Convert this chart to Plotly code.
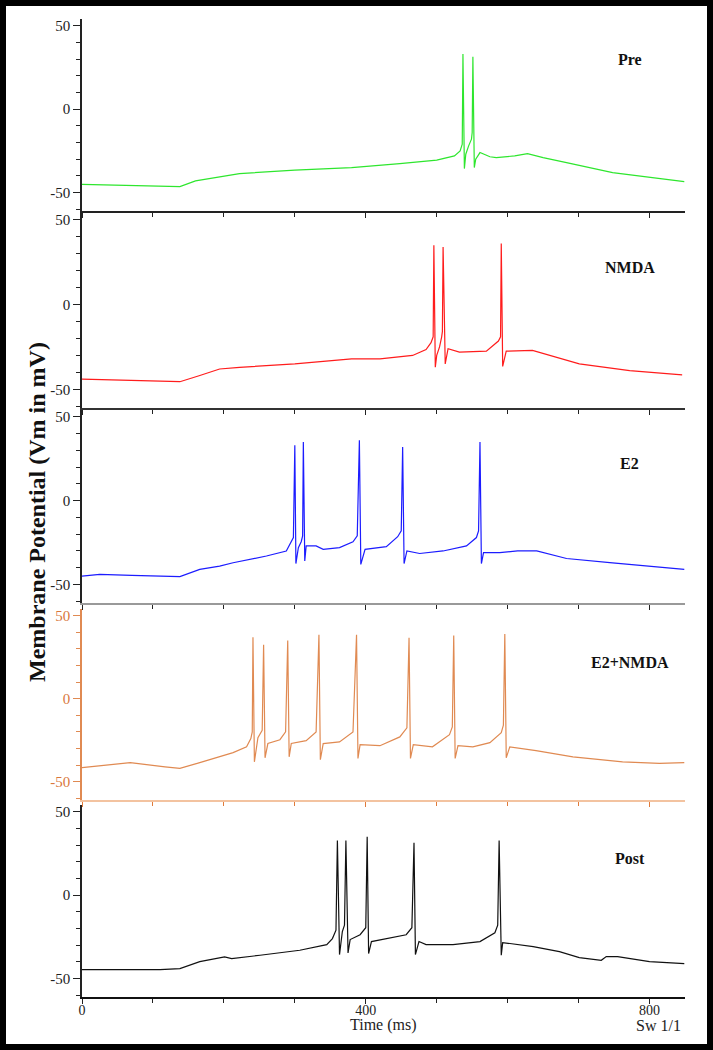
import plotly.graph_objects as go

# time (ms) / membrane potential (mV) breakpoints
pre_t = [0, 60, 138, 160, 222, 300, 380, 448, 500, 525, 533, 536, 537, 539, 541, 545, 549, 550, 551, 553, 555,
         561, 575, 584, 610, 628, 650, 683, 748, 804, 849]
pre_v = [-45, -45.5, -46.4, -43, -38.6, -36.5, -35, -32.6, -30.5, -28, -25, -21, 33, -35.6, -27, -22, -18, -14, 31.4,
         -35, -30, -26, -28.5, -29, -28, -26.6, -29, -32, -38, -41, -43.4]

nmda_t = [0, 60, 138, 165, 194, 222, 300, 380, 420, 466, 485, 492, 495, 496, 498, 500, 504, 507, 508, 509, 512, 516,
          532, 570, 580, 587, 590, 591, 593, 598, 635, 660, 701, 772, 846]
nmda_v = [-44, -44.5, -45.5, -42, -38, -37, -35, -32, -32, -30, -26.5, -22.5, -19, 35, -37, -30, -25, -19, -16, 34,
          -35, -26, -28, -27.5, -24, -21.5, -19, 36, -36.5, -27.5, -27, -30, -35, -39, -41.5]

e2_t = [0, 25, 70, 138, 166, 194, 213, 260, 288, 295, 298, 300, 301.5, 305, 309, 311, 312, 314, 316, 330, 340, 363,
        382, 388, 391, 393, 399, 429, 445, 450, 452, 454, 458, 476, 509, 542, 556, 559, 561, 563, 566, 589, 614, 641,
        683, 744, 795, 849]
e2_v = [-45, -44, -44.5, -45.3, -41, -39, -37, -33, -30, -25, -22, 33, -37.5, -28, -24.5, -21, 35, -36, -27, -27, -29,
        -28, -24.5, -21, 36, -38, -29, -27.4, -21.5, -18, 32, -37.5, -30, -31.5, -30, -27, -22, -18, 35, -37.5, -31,
        -31, -30, -30, -34.5, -37, -39, -41]

e2nmda_t = [0, 68, 117, 138, 166, 194, 213, 232, 238, 240, 241, 243, 248, 254, 256, 258, 262, 279, 287, 290, 292,
            295, 316, 330, 334, 336, 340, 363, 382, 387, 389, 392, 420, 448, 458, 461, 463, 467, 494, 518, 522, 524,
            526, 530, 551, 575, 591, 594, 596, 598, 603, 640, 692, 762, 814, 849]
e2nmda_v = [-41.5, -38.5, -41, -42, -38.5, -35, -32.5, -29, -24, -20, 37, -38, -23.5, -19, 32.5, -35.6, -27, -24.7,
            -20, 35, -35, -27, -25.3, -20, 38.5, -36.7, -27, -26, -20, 38.5, -36, -27.7, -28.3, -23, -17.5, 36.7, -36,
            -27.7, -29, -21.7, -17, 38, -36, -28.3, -29, -26.5, -20.5, -16, 39, -35.6, -29, -31.3, -35, -38, -39,
            -38.5]

post_t = [0, 110, 138, 166, 201, 211, 251, 307, 345, 353, 358, 360, 363, 367, 370, 372, 375, 378, 392, 400, 402, 404,
          408, 429, 457, 465, 468, 470, 475, 485, 523, 561, 582, 586, 588, 591, 593, 636, 673, 701, 732, 739, 755,
          800, 849]
post_v = [-44.6, -44.6, -44, -39.8, -37, -38, -36, -33, -29.6, -26, -21, 32.7, -35.6, -21.8, -18, 32.7, -34.6, -26.6,
          -23.7, -19.5, 35, -35, -27.8, -26, -23.7, -19.5, 31.4, -35.6, -27.8, -29.6, -29.6, -27.8, -22.5, -18, 32.7,
          -36, -28.4, -30.8, -33.8, -37.4, -39, -36.8, -36.8, -39.8, -41]

labels = ["Pre", "NMDA", "E2", "E2+NMDA", "Post"]
colors = ["#2ee62e", "#ff1c1c", "#1c1cff", "#e08a52", "#111111"]
series_t = [pre_t, nmda_t, e2_t, e2nmda_t, post_t]
series_v = [pre_v, nmda_v, e2_v, e2nmda_v, post_v]

y_tick_vals = [-50, 0, 50]
y_tick_text = ["-50", "0", "50"]
x_tick_vals = [0, 400, 800]
x_tick_text = ["0", "400", "800"]

W, H = 713, 1050
L, R, T, B = 82, 28, 19, 53
PW, PH = W - L - R, H - T - B
# pixel rows of each panel (top, bottom)
rows = [(19, 211), (213, 408), (410, 603), (609, 800), (805, 997)]
axis_cols = ["#222222", "#333333", "#999999", "#f3c3a0", "#111111"]
yaxis_cols = ["#222222", "#222222", "#222222", "#e08a52", "#222222"]
label_cols = ["#222222", "#222222", "#222222", "#d9773c", "#222222"]

serif = "Liberation Serif, Times New Roman, serif"
fig = go.Figure()

for i in range(5):
    n = "" if i == 0 else str(i + 1)
    fig.add_trace(go.Scatter(x=series_t[i], y=series_v[i], mode="lines",
                             line=dict(color=colors[i], width=1.2),
                             xaxis="x" + n, yaxis="y" + n, showlegend=False))
    top, bot = rows[i]
    dom = [(H - B - bot) / PH, (H - B - top) / PH]
    last = i == 4
    tcol = yaxis_cols[i] if i != 3 else "#e07a3a"
    fig.layout["xaxis" + n] = dict(
        domain=[0, 1], anchor="y" + n, range=[0, 850],
        showline=True, linecolor=axis_cols[i], linewidth=1.5,
        ticks="outside", ticklen=5, tickcolor=tcol,
        tickmode="array", tickvals=x_tick_vals, ticktext=x_tick_text,
        minor=dict(tickmode="linear", tick0=0, dtick=100, ticks="outside", ticklen=4, tickcolor=tcol),
        showticklabels=last, showgrid=False, zeroline=False, ticklabelstandoff=-6,
        tickfont=dict(family=serif, size=14, color="#222222"), automargin=False,
    )
    fig.layout["yaxis" + n] = dict(
        domain=dom, anchor="x" + n, range=[-61, 54],
        showline=True, linecolor=yaxis_cols[i], linewidth=1.5,
        ticks="outside", ticklen=7, tickcolor=yaxis_cols[i],
        tickmode="array", tickvals=y_tick_vals, ticktext=y_tick_text,
        minor=dict(tickmode="linear", tick0=0, dtick=10, ticks="outside", ticklen=4,
                   tickcolor=yaxis_cols[i]),
        showgrid=False, zeroline=False,
        tickfont=dict(family=serif, size=15, color=label_cols[i]), automargin=False,
    )
    fig.add_annotation(x=772, y=22 if i else 30, xref="x" + n, yref="y" + n, text="<b>%s</b>" % labels[i],
                       showarrow=False, font=dict(family=serif, size=16, color="#111111"))

fig.add_annotation(x=(22 - L) / PW, y=(H - B - 512) / PH, xref="paper", yref="paper",
                   text="<b>Membrane Potential (Vm in mV)</b>", textangle=-90, showarrow=False,
                   font=dict(family=serif, size=24, color="#111111"))
fig.add_annotation(x=(383 - L) / PW, y=(H - B - 1025) / PH, xref="paper", yref="paper", yanchor="middle",
                   text="Time (ms)", showarrow=False, font=dict(family=serif, size=16, color="#222222"))
fig.add_annotation(x=(683 - L) / PW, y=(H - B - 1025) / PH, xref="paper", yref="paper", xanchor="right",
                   yanchor="middle", text="Sw 1/1", showarrow=False,
                   font=dict(family=serif, size=16, color="#222222"))

# black frame around the whole picture
fig.add_shape(type="rect", xref="paper", yref="paper",
              x0=-L / PW, x1=1 + R / PW, y0=-B / PH, y1=1 + T / PH,
              line=dict(color="black", width=12), fillcolor="rgba(0,0,0,0)")

fig.update_layout(width=W, height=H, margin=dict(l=L, r=R, t=T, b=B),
                  paper_bgcolor="white", plot_bgcolor="white")
fig.write_html("out.html", config={"displayModeBar": False},
               post_script="document.body.style.margin='0px';")
